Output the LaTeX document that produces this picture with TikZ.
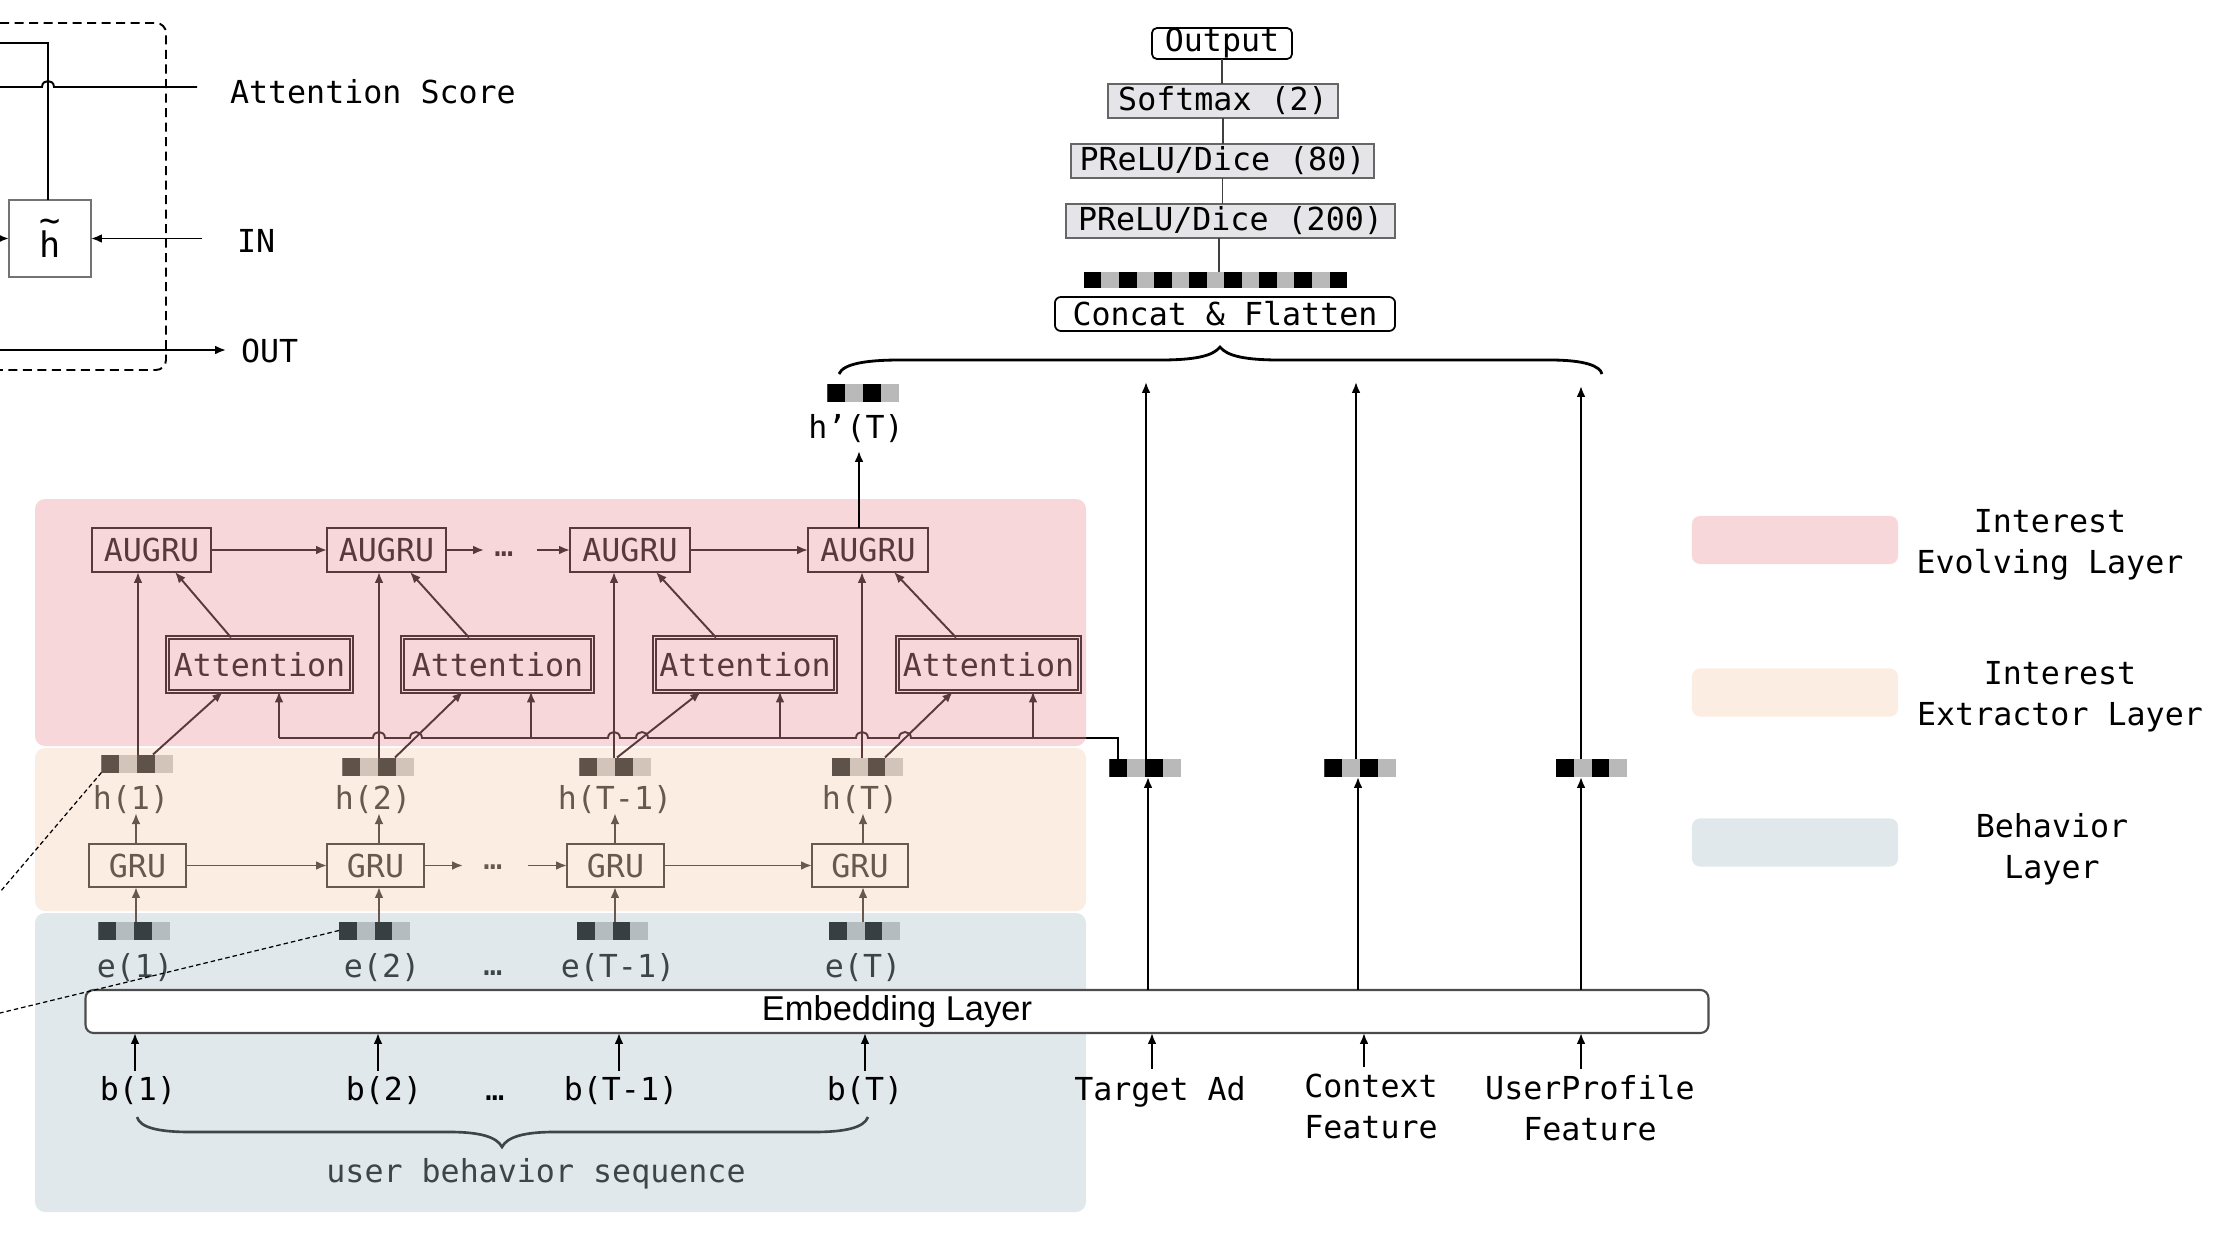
\documentclass[tikz,border=0pt]{standalone}
\usepackage{fontspec}
\setmainfont{DejaVu Sans Mono}
\newfontfamily\embfont{Liberation Sans}
\usetikzlibrary{arrows.meta}
\definecolor{evc}{RGB}{88,58,62}
\definecolor{exc}{RGB}{104,88,78}
\definecolor{bhc}{RGB}{62,68,71}
\definecolor{pinkbg}{RGB}{248,215,219}
\definecolor{peachbg}{RGB}{252,237,226}
\definecolor{bluebg}{RGB}{225,232,235}
\definecolor{hdark}{RGB}{95,82,72}
\definecolor{hlight}{RGB}{210,196,185}
\definecolor{edark}{RGB}{56,63,66}
\definecolor{elight}{RGB}{181,188,191}
\definecolor{vgray}{RGB}{185,185,185}
\definecolor{mlpfill}{RGB}{229,229,233}
\begin{document}
\begin{tikzpicture}[x=0.01cm, y=-0.01cm,
 every node/.style={inner sep=0pt, outer sep=0pt, font=\fontsize{9}{11.38}\selectfont},
 myarr/.style={-{Latex[length=3.1pt,width=2.5pt]}},
 lw/.style={line width=0.55pt},
 aug/.style={draw=evc, text=evc, line width=0.6pt, minimum height=0.44cm},
 attn/.style={draw=evc, text=evc, line width=0.45pt, double=pinkbg, double distance=0.5pt, minimum height=0.54cm},
 grubox/.style={draw=exc, text=exc, line width=0.6pt, minimum height=0.43cm, minimum width=0.97cm},
 mlp/.style={draw=black!60, fill=mlpfill, line width=0.5pt, minimum height=0.34cm},
 vecf/.style 2 args={minimum width=0.71cm, minimum height=0.18cm, fill=#2, path picture={
   \fill[#1] (path picture bounding box.north west) rectangle ([xshift=0.1775cm]path picture bounding box.south west);
   \fill[#1] ([xshift=0.355cm]path picture bounding box.north west) rectangle ([xshift=0.5325cm]path picture bounding box.south west);}},
 vecfifteen/.style={minimum width=2.63cm, minimum height=0.16cm, fill=vgray, path picture={
   \foreach \i in {0,2,...,14}{\fill[black] ([xshift=\i*0.17533cm]path picture bounding box.north west) rectangle ([xshift=\i*0.17533cm+0.17533cm]path picture bounding box.south west);}}},
 legbox/.style={rounded corners=0.08cm, minimum width=2.06cm, minimum height=0.48cm},
 lab/.style={anchor=base},
 dl/.style={line width=0.35pt, dash pattern=on 0.045cm off 0.03cm},
]
\useasboundingbox (0,0) rectangle (2226,1236);

% ---------- layer backgrounds ----------
\fill[pinkbg, rounded corners=0.1cm] (35,499) rectangle (1086,746);
\fill[peachbg, rounded corners=0.1cm] (35,748) rectangle (1086,911);
\fill[bluebg, rounded corners=0.1cm] (35,913) rectangle (1086,1212);

% ---------- partial AUGRU cell (top left) ----------
\draw[line width=0.55pt, dash pattern=on 0.09cm off 0.055cm, rounded corners=0.1cm] (0,23) -- (166,23) -- (166,370) -- (0,370);
\node[draw=black!55, line width=0.5pt, minimum width=0.82cm, minimum height=0.77cm, font=\fontsize{10}{11}\selectfont] (ht) at (50,238.5) {\rlap{\raisebox{7.2pt}{\char"7E}}h};
\coordinate (tl0) at (0,43);
\draw[lw] (tl0) -- (48,43) -- (ht.north -| 48,0);
\coordinate (asl) at (0,87);
\coordinate (asr) at (197,87);
\draw[lw] (asl) -- (42,87) .. controls (42,79) and (54,79) .. (54,87) -- (asr);
\node[anchor=base west] (atts) at (230,103) {Attention Score};
\coordinate (ins) at (202,238.5);
\draw[lw, myarr] (ins) -- (ht.east);
\node[anchor=base west] (inl) at (237,252) {IN};
\coordinate (lin) at (0,238.5);
\draw[lw, myarr] (lin) -- (ht.west);
\coordinate (outs) at (0,350);
\coordinate (oute) at (226,350);
\draw[lw, myarr] (outs) -- (oute);
\node[anchor=base west] (outl) at (241,362) {OUT};

% ---------- MLP tower ----------
\node[draw, line width=0.5pt, fill=white, rounded corners=0.05cm, minimum width=1.40cm, minimum height=0.31cm] (outp) at (1222,43.5) {Output};
\node[mlp, minimum width=2.30cm] (smax) at (1223,101) {Softmax (2)};
\node[mlp, minimum width=3.03cm] (p80) at (1222.5,161) {PReLU/Dice (80)};
\node[mlp, minimum width=3.29cm] (p200) at (1230.5,221) {PReLU/Dice (200)};
\node[vecfifteen] (cvec) at (1215.5,280) {};
\node[draw, line width=0.5pt, fill=white, rounded corners=0.06cm, minimum width=3.40cm, minimum height=0.34cm] (concat) at (1225,314) {Concat \& Flatten};
\draw[line width=0.4pt, black!75] (outp.south) -- (outp.south |- smax.north);
\draw[line width=0.4pt, black!75] (smax.south) -- (smax.south |- p80.north);
\draw[line width=0.4pt, black!75] (p80.south) -- (p80.south |- p200.north);
\draw[line width=0.4pt, black!75] (p200.south -| 1219,0) -- (cvec.north -| 1219,0);

% big brace
\draw[line width=0.8pt] (839,374) .. controls (843,364) and (865,360) .. (900,360) -- (1160,360)
  .. controls (1195,360) and (1213,356) .. (1220,347) .. controls (1227,356) and (1245,360) .. (1280,360)
  -- (1550,360) .. controls (1585,360) and (1600,366) .. (1602,374);

% ---------- right-hand features ----------
\node[vecf={black}{vgray}] (hpv) at (863,393) {};
\node[lab] (hpl) at (856,438) {h’(T)};
\node[vecf={black}{vgray}] (tv) at (1145,768) {};
\node[vecf={black}{vgray}] (cv) at (1360,768) {};
\node[vecf={black}{vgray}] (uv) at (1591.5,768) {};

\node[draw=black!70, fill=white, rounded corners=0.08cm, line width=0.6pt, minimum width=16.22cm, minimum height=0.43cm, font=\embfont\fontsize{9.8}{11}\selectfont] (emb) at (897,1011.5) {Embedding Layer};

\coordinate (tt) at (1146,382);
\coordinate (ct) at (1356,382);
\coordinate (ut) at (1581,386);
\draw[lw, myarr] (tv.north -| tt) -- (tt);
\draw[lw, myarr] (cv.north -| ct) -- (ct);
\draw[lw, myarr] (uv.north -| ut) -- (ut);
\draw[lw, myarr] (emb.north -| 1148,0) -- (tv.south -| 1148,0);
\draw[lw, myarr] (emb.north -| 1358,0) -- (cv.south -| 1358,0);
\draw[lw, myarr] (emb.north -| 1581,0) -- (uv.south -| 1581,0);

\node[lab] (tad) at (1160,1100) {Target Ad};
\node[lab, align=center] (ctx) at (1371,1138) {Context\\Feature};
\node[lab, align=center] (upf) at (1590,1140) {UserProfile\\Feature};
\draw[lw, myarr] ([yshift=0.07cm]tad.north -| 1152,0) -- (emb.south -| 1152,0);
\draw[lw, myarr] ([yshift=0.07cm]ctx.north -| 1364,0) -- (emb.south -| 1364,0);
\draw[lw, myarr] ([yshift=0.07cm]upf.north -| 1581,0) -- (emb.south -| 1581,0);

% ---------- legend ----------
\node[legbox, fill=pinkbg] (lg1) at (1795,540) {};
\node[legbox, fill=peachbg] (lg2) at (1795,692.5) {};
\node[legbox, fill=bluebg] (lg3) at (1795,842.5) {};
\node[lab, align=center] (lt1) at (2050,573) {Interest\\Evolving Layer};
\node[lab, align=center] (lt2) at (2060,725) {Interest\\Extractor Layer};
\node[lab, align=center] (lt3) at (2052,878) {Behavior\\Layer};

% ---------- interest evolving layer ----------
\node[aug, minimum width=1.19cm] (a1) at (151.5,550) {AUGRU};
\node[aug, minimum width=1.19cm] (a2) at (386.5,550) {AUGRU};
\node[aug, minimum width=1.20cm] (a3) at (630,550) {AUGRU};
\node[aug, minimum width=1.20cm] (a4) at (868,550) {AUGRU};
\node[lab, text=evc] (ad) at (504,556) {…};
\coordinate (aq1) at (484,550);
\coordinate (aq2) at (537,550);
\draw[evc, lw, myarr] (a1.east) -- (a2.west);
\draw[evc, lw, myarr] (a2.east) -- (aq1);
\draw[evc, lw, myarr] (aq2) -- (a3.west);
\draw[evc, lw, myarr] (a3.east) -- (a4.west);

\node[attn, minimum width=1.84cm] (t1) at (259.5,664.5) {Attention};
\node[attn, minimum width=1.90cm] (t2) at (497.5,664.5) {Attention};
\node[attn, minimum width=1.81cm] (t3) at (745,664.5) {Attention};
\node[attn, minimum width=1.82cm] (t4) at (988.5,664.5) {Attention};

\draw[evc, lw, myarr] (231,0 |- t1.north) -- (175,0 |- a1.south);
\draw[evc, lw, myarr] (469,0 |- t2.north) -- (410,0 |- a2.south);
\draw[evc, lw, myarr] (716,0 |- t3.north) -- (656,0 |- a3.south);
\draw[evc, lw, myarr] (956,0 |- t4.north) -- (894,0 |- a4.south);

% ---------- interest extractor layer ----------
\node[vecf={hdark}{hlight}] (hv1) at (137,763.5) {};
\node[vecf={hdark}{hlight}] (hv2) at (378,766.5) {};
\node[vecf={hdark}{hlight}] (hv3) at (615,766.5) {};
\node[vecf={hdark}{hlight}] (hv4) at (867.5,766.5) {};
\node[lab, text=exc] (hl1) at (131,809) {h(1)};
\node[lab, text=exc] (hl2) at (373,809) {h(2)};
\node[lab, text=exc] (hl3) at (615,809) {h(T-1)};
\node[lab, text=exc] (hl4) at (860,809) {h(T)};

\node[grubox] (g1) at (137.5,865.5) {GRU};
\node[grubox] (g2) at (375.5,865.5) {GRU};
\node[grubox] (g3) at (615.5,865.5) {GRU};
\node[grubox, minimum width=0.96cm] (g4) at (860,865.5) {GRU};
\node[lab, text=exc] (gd) at (493,869) {…};
\coordinate (gq1) at (463,865.5);
\coordinate (gq2) at (528,865.5);
\draw[exc, lw, myarr] (g1.east) -- (g2.west);
\draw[exc, lw, myarr] (g2.east) -- (gq1);
\draw[exc, lw, myarr] (gq2) -- (g3.west);
\draw[exc, lw, myarr] (g3.east) -- (g4.west);

% columns
\coordinate (c1) at (136,0);
\coordinate (c2) at (379,0);
\coordinate (c3) at (615,0);
\coordinate (c4) at (863,0);
\coordinate (v1) at (138,0);
\coordinate (v2) at (379,0);
\coordinate (v3) at (614,0);
\coordinate (v4) at (862,0);

\foreach \k in {1,2,3,4}{
  \draw[exc, lw, myarr] (g\k.north -| c\k) -- (hl\k.south -| c\k);
}

% h -> AUGRU verticals
\foreach \k in {1,2,3,4}{
  \draw[evc, lw, myarr] (hv\k.north -| v\k) -- (a\k.south -| v\k);
}
% h -> Attention diagonals
\draw[evc, lw, myarr] (153,0 |- hv1.north) -- (223,0 |- t1.south);
\draw[evc, lw, myarr] (395,0 |- hv2.north) -- (463,0 |- t2.south);
\draw[evc, lw, myarr] (617,0 |- hv3.north) -- (701,0 |- t3.south);
\draw[evc, lw, myarr] (885,0 |- hv4.north) -- (953,0 |- t4.south);

% target ad line into attention
\coordinate (tlc) at (1118,738);
\draw[lw] (tv.north -| tlc) -- (tlc) -- (1086,738);
\draw[evc, lw] (1086,738) -- (911,738) .. controls (911,730) and (899,730) .. (899,738)
  -- (868,738) .. controls (868,730) and (856,730) .. (856,738)
  -- (648,738) .. controls (648,730) and (636,730) .. (636,738)
  -- (620,738) .. controls (620,730) and (608,730) .. (608,738)
  -- (422,738) .. controls (422,730) and (410,730) .. (410,738)
  -- (385,738) .. controls (385,730) and (373,730) .. (373,738)
  -- (279,738);
\draw[evc, lw, myarr] (279,738) -- (279,0 |- t1.south);
\draw[evc, lw, myarr] (531,738) -- (531,0 |- t2.south);
\draw[evc, lw, myarr] (780,738) -- (780,0 |- t3.south);
\draw[evc, lw, myarr] (1033,738) -- (1033,0 |- t4.south);

% AUGRU4 -> h'(T)
\coordinate (hpt) at (859,451);
\draw[lw, myarr] (a4.north -| hpt) -- (hpt);

% ---------- behavior layer ----------
\node[vecf={edark}{elight}] (ev1) at (134,930.5) {};
\node[vecf={edark}{elight}] (ev2) at (374.5,930.5) {};
\node[vecf={edark}{elight}] (ev3) at (612.5,930.5) {};
\node[vecf={edark}{elight}] (ev4) at (864.5,930.5) {};
\foreach \k in {1,2,3,4}{
  \draw[exc, lw, myarr] (ev\k.north -| c\k) -- (g\k.south -| c\k);
}
\node[lab, text=bhc] (el1) at (135,977) {e(1)};
\node[lab, text=bhc] (el2) at (382,977) {e(2)};
\node[lab, text=bhc] (ed) at (493,975) {…};
\node[lab, text=bhc] (el3) at (618,977) {e(T-1)};
\node[lab, text=bhc] (el4) at (863,977) {e(T)};

\node[lab] (bl1) at (138,1100) {b(1)};
\node[lab] (bl2) at (384,1100) {b(2)};
\node[lab] (bd) at (495,1100) {…};
\node[lab] (bl3) at (621,1100) {b(T-1)};
\node[lab] (bl4) at (865,1100) {b(T)};
\coordinate (b1) at (135,0);
\coordinate (b2) at (378,0);
\coordinate (b3) at (619,0);
\coordinate (b4) at (865,0);
\foreach \k in {1,2,3,4}{
  \draw[lw, myarr] ([yshift=0.05cm]bl\k.north -| b\k) -- (emb.south -| b\k);
}
\draw[bhc, line width=0.75pt] (137,1117) .. controls (140,1128) and (160,1132) .. (190,1132) -- (450,1132)
  .. controls (480,1132) and (497,1137) .. (502,1147) .. controls (507,1137) and (524,1132) .. (554,1132)
  -- (814,1132) .. controls (844,1132) and (864,1128) .. (868,1117);
\node[lab, text=bhc] (ubs) at (536,1182) {user behavior sequence};

% dashed zoom lines
\coordinate (dz1) at (0,892);
\coordinate (dz2) at (0,1013);
\draw[dl] (hv1.south west) -- (dz1);
\draw[dl] (ev2.west) -- (dz2);
\end{tikzpicture}
\end{document}
